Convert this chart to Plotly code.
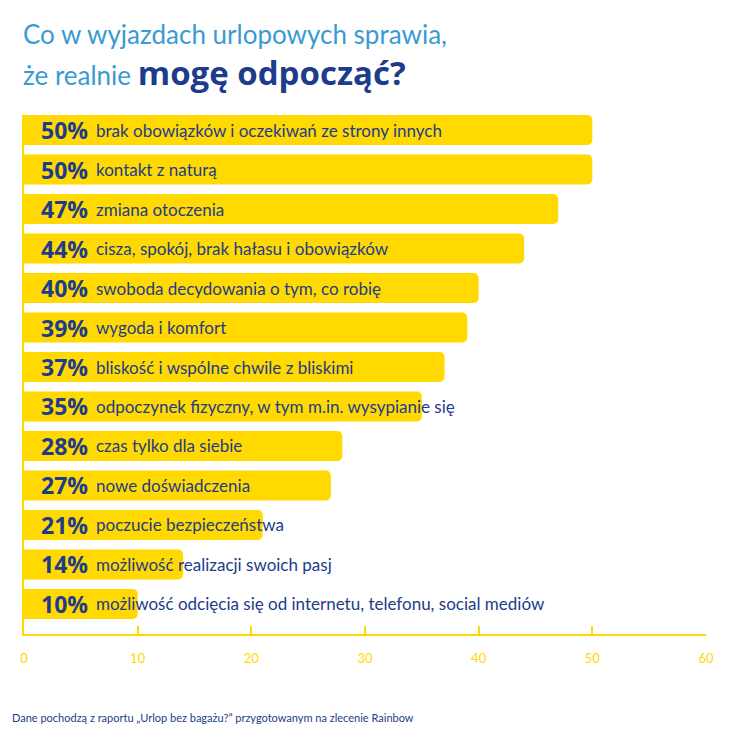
import plotly.graph_objects as go

# %% Data
labels = [
    "brak obowiązków i oczekiwań ze strony innych",
    "kontakt z naturą",
    "zmiana otoczenia",
    "cisza, spokój, brak hałasu i obowiązków",
    "swoboda decydowania o tym, co robię",
    "wygoda i komfort",
    "bliskość i wspólne chwile z bliskimi",
    "odpoczynek fizyczny, w tym m.in. wysypianie się",
    "czas tylko dla siebie",
    "nowe doświadczenia",
    "poczucie bezpieczeństwa",
    "możliwość realizacji swoich pasj",
    "możliwość odcięcia się od internetu, telefonu, social mediów",
]
values = [50, 50, 47, 44, 40, 39, 37, 35, 28, 27, 21, 14, 10]
x_ticks = [0, 10, 20, 30, 40, 50, 60]

YELLOW = "#FFD900"
NAVY = "#1D3C8B"
LIGHT_BLUE = "#3A9AD2"
positions = list(range(len(labels)))

# %% Figure
fig = go.Figure()
fig.add_trace(go.Bar(x=values, y=positions, orientation="h",
                     marker=dict(color=YELLOW, line_width=0, cornerradius=5),
                     width=0.76, hoverinfo="skip"))

for pos, val, lab in zip(positions, values, labels):
    fig.add_annotation(x=0, y=pos, xref="x", yref="y", xanchor="left",
                       yanchor="middle", xshift=15, showarrow=False,
                       text=f"<b>{val}%</b>",
                       font=dict(family="Open Sans", size=23, color=NAVY))
    fig.add_annotation(x=0, y=pos, xref="x", yref="y", xanchor="left",
                       yanchor="middle", xshift=70, showarrow=False,
                       text=lab, font=dict(family="Lato", size=17, color=NAVY))

# title, two lines
fig.add_annotation(x=-0.004, y=1.157, xref="paper", yref="paper", xanchor="left",
                   yanchor="middle", showarrow=False,
                   text="Co w wyjazdach urlopowych sprawia,",
                   font=dict(family="Lato", size=26, color=LIGHT_BLUE))
fig.add_annotation(x=-0.004, y=1.082, xref="paper", yref="paper", xanchor="left",
                   yanchor="middle", showarrow=False,
                   text=("że realnie <b><span style='font-family:Open Sans;font-size:33px;color:"
                         + NAVY + "'>mogę odpocząć?</span></b>"),
                   font=dict(family="Lato", size=26, color=LIGHT_BLUE))

# source note
fig.add_annotation(x=-0.02, y=-0.16, xref="paper", yref="paper", xanchor="left",
                   yanchor="middle", showarrow=False,
                   text="Dane pochodzą z raportu „Urlop bez bagażu?” przygotowanym na zlecenie Rainbow",
                   font=dict(family="Lato", size=11, color=NAVY))

fig.update_xaxes(range=[0, 60], tickvals=x_ticks, showgrid=False, zeroline=False,
                 showline=True, linecolor=YELLOW, linewidth=2,
                 ticks="inside", ticklen=8, tickwidth=2, tickcolor=YELLOW,
                 tickfont=dict(family="Lato", size=13, color=YELLOW),
                 ticklabelstandoff=11)
fig.update_yaxes(range=[12.76, -0.38], showgrid=False, zeroline=False,
                 showticklabels=False, showline=True, linecolor=YELLOW, linewidth=2)

# page body keeps an 8px margin, so the figure is trimmed by that much
fig.update_layout(width=722, height=730, template="plotly_white",
                  plot_bgcolor="white", paper_bgcolor="white", showlegend=False,
                  margin=dict(l=12, r=24, t=107, b=104))

fig.write_html("out.html")
